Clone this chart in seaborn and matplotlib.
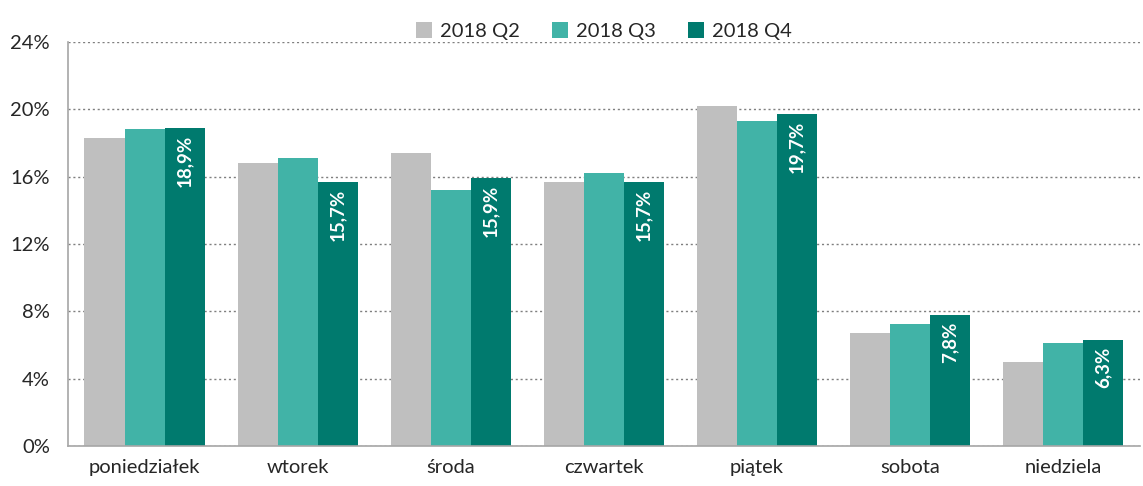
import pandas as pd
import matplotlib.pyplot as plt
import seaborn as sns
from matplotlib.ticker import FuncFormatter

# Data (share of transactions by weekday, %)
days = ["poniedziałek", "wtorek", "środa", "czwartek", "piątek", "sobota", "niedziela"]
quarters = ["2018 Q2", "2018 Q3", "2018 Q4"]
q2 = [18.3, 16.8, 17.4, 15.7, 20.2, 6.7, 5.0]
q3 = [18.8, 17.1, 15.2, 16.2, 19.3, 7.25, 6.1]
q4 = [18.9, 15.7, 15.9, 15.7, 19.7, 7.8, 6.3]
q4_labels = ["18,9%", "15,7%", "15,9%", "15,7%", "19,7%", "7,8%", "6,3%"]
colors = ["#BFBFBF", "#41B3A7", "#007A6E"]

df = pd.DataFrame({
    "day": days * 3,
    "quarter": [quarters[0]] * 7 + [quarters[1]] * 7 + [quarters[2]] * 7,
    "value": q2 + q3 + q4,
})

sns.set_style("white")
plt.rcParams["font.family"] = ["Lato", "DejaVu Sans"]

fig = plt.figure(figsize=(11.43, 4.86), dpi=100)
ax = fig.add_axes([0.0595, 0.082, 0.9375, 0.832])

sns.barplot(data=df, x="day", y="value", hue="quarter", palette=colors,
            width=0.785, saturation=1, ax=ax, errorbar=None, linewidth=0)

# data labels on the Q4 bars
for bar, lab in zip(ax.containers[2], q4_labels):
    x = bar.get_x() + bar.get_width() / 2
    ax.text(x, bar.get_height() - 0.4, lab, rotation=90, ha="center", va="top",
            color="white", fontsize=13.5, fontweight="bold")

ax.set_ylim(0, 24)
ax.set_xlim(-0.5, 6.5)
ax.set_yticks(range(0, 25, 4))
ax.yaxis.set_major_formatter(FuncFormatter(lambda v, p: f"{int(v)}%"))
ax.grid(axis="y", color="#7F7F7F", linestyle=(0, (1.5, 2)), linewidth=1)
ax.set_axisbelow(True)
ax.set_xlabel("")
ax.set_ylabel("")

for s in ["top", "right"]:
    ax.spines[s].set_visible(False)
for s in ["left", "bottom"]:
    ax.spines[s].set_color("#A6A6A6")
    ax.spines[s].set_linewidth(1.2)

# x tick marks at the category boundaries, labels at centers
ax.set_xticks([i + 0.5 for i in range(-1, 7)], minor=False)
ax.set_xticklabels([])
ax.set_xticks(range(7), minor=True)
ax.set_xticklabels(days, minor=True, fontsize=14.5, color="#262626")
ax.tick_params(axis="x", which="major", length=6, color="#A6A6A6", width=1.2, direction="out")
ax.tick_params(axis="x", which="minor", length=0, pad=9)
ax.tick_params(axis="y", length=6, color="#A6A6A6", width=1.2, direction="out",
               labelsize=14.5, labelcolor="#262626", pad=7)

ax.legend(loc="lower center", bbox_to_anchor=(0.5, 0.985), ncol=3, frameon=False,
          fontsize=14.5, handlelength=0.8, handleheight=0.8, handletextpad=0.4,
          columnspacing=1.6, borderaxespad=0)

fig.savefig("out.png", dpi=100)
